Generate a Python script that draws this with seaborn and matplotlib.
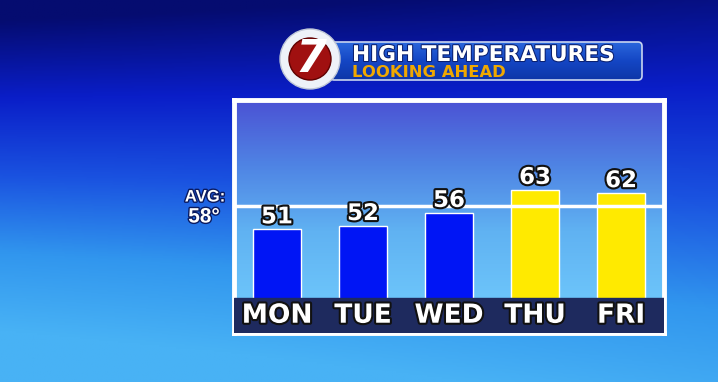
import numpy as np
import pandas as pd
import matplotlib
matplotlib.use("Agg")
import matplotlib.pyplot as plt
import matplotlib.patheffects as pe
from matplotlib.colors import LinearSegmentedColormap
from matplotlib.patches import Circle, FancyBboxPatch
import seaborn as sns

days = ["MON", "TUE", "WED", "THU", "FRI"]
temps = [51, 52, 56, 63, 62]
bar_colors = ["#0015f5", "#0015f5", "#0015f5", "#ffea00", "#ffea00"]
avg_temp = 58
title_main = "HIGH TEMPERATURES"
title_sub = "LOOKING AHEAD"

sns.set_theme(style="white")
plt.rcParams["font.family"] = ["DejaVu Sans"]

W, H = 718, 382
fig = plt.figure(figsize=(W / 100, H / 100), dpi=100)

# background gradient
bg = fig.add_axes([0, 0, 1, 1])
bg.set_axis_off()
yy, xx = np.mgrid[0:1:200j, 0:1:300j]
t = np.clip(0.85 * yy + 0.25 * (1 - xx) * yy - 0.12 * (1 - yy) * (1 - xx) + 0.06, 0, 1)
bgcmap = LinearSegmentedColormap.from_list(
    "bg", ["#050c70", "#0a1ec8", "#1a52e0", "#3196ee", "#48b2f5"])
bg.imshow(t, cmap=bgcmap, aspect="auto", extent=[0, 1, 0, 1], origin="upper", vmin=0, vmax=1)
bg.set_xlim(0, 1)
bg.set_ylim(0, 1)

def px(x0, y0, x1, y1):
    return [x0 / W, 1 - y1 / H, (x1 - x0) / W, (y1 - y0) / H]

ax = fig.add_axes(px(234, 100, 664, 333))
ymin, ymax = 19.5, 90.3
base = 30
inner = LinearSegmentedColormap.from_list("in", ["#4b52d4", "#4f84e4", "#60b2f2", "#6cc4fa"])
grad = np.linspace(0, 1, 100).reshape(-1, 1)
ax.imshow(grad, cmap=inner, aspect="auto", extent=[-0.5, 4.5, base, ymax],
          origin="upper", zorder=0)

df = pd.DataFrame({"day": days, "temp": temps})
sns.barplot(data=df, x="day", y="temp", hue="day", palette=bar_colors,
            legend=False, width=0.55, ax=ax, saturation=1, zorder=2)
ax.set_xlim(-0.5, 4.5)
ax.set_ylim(ymin, ymax)
ax.axhspan(ymin, base, color="#1e2a5e", zorder=3)
ax.axhline(avg_temp, color="white", lw=2.5, zorder=4)

stroke = [pe.withStroke(linewidth=3, foreground="#111111")]
for i, (d, v) in enumerate(zip(days, temps)):
    ax.text(i, v + 0.3, str(v), ha="center", va="bottom", color="white",
            fontsize=16.5, fontweight="bold", path_effects=stroke, zorder=5)
    ax.text(i, (ymin + base) / 2, d, ha="center", va="center", color="white",
            fontsize=19, fontweight="bold", path_effects=stroke, zorder=5)

ax.set_xticks([])
ax.set_yticks([])
ax.set_xlabel("")
ax.set_ylabel("")
for s in ax.spines.values():
    s.set_color("white")
    s.set_linewidth(3.5)
    s.set_visible(True)

# AVG label
lab_fx = [pe.withStroke(linewidth=2, foreground="#0a1a60")]
fig.text(205 / W, 1 - 197 / H, "AVG:", ha="center", va="center", color="white",
         fontsize=12, fontweight="bold", family=["Liberation Sans", "DejaVu Sans"],
         path_effects=lab_fx)
fig.text(204 / W, 1 - 217 / H, f"{avg_temp}°", ha="center", va="center", color="white",
         fontsize=15, fontweight="bold", family=["Liberation Sans", "DejaVu Sans"],
         path_effects=lab_fx)

# banner
ov = fig.add_axes([0, 0, 1, 1])
ov.set_axis_off()
ov.set_xlim(0, W)
ov.set_ylim(H, 0)
banner = FancyBboxPatch((330, 42), 312, 38, boxstyle="round,pad=0,rounding_size=4",
                        facecolor="none", edgecolor="#c8d4f0", lw=1.2, zorder=2)
ov.add_patch(banner)
bcmap = LinearSegmentedColormap.from_list("bn", ["#2a66dc", "#1446c4", "#0e36a8"])
im = ov.imshow(np.linspace(0, 1, 50).reshape(-1, 1), cmap=bcmap, aspect="auto",
               extent=[330, 642, 80, 42], origin="upper", zorder=1)
im.set_clip_path(banner)
ov.set_xlim(0, W)
ov.set_ylim(H, 0)
ov.add_patch(Circle((310, 59), 30, facecolor="#eef2f8", edgecolor="#c0c8d8", lw=1, zorder=3))
ov.add_patch(Circle((310, 59), 21, facecolor="#a01010", edgecolor="#600000", lw=1, zorder=4))
ov.text(311, 60, "7", ha="center", va="center", color="white", fontsize=32,
        fontweight="bold", style="italic", zorder=5)
ov.text(352, 61, title_main, ha="left", va="baseline", color="white", zorder=5,
        fontsize=15.6, fontweight="bold", path_effects=[pe.withStroke(linewidth=1.5, foreground="#0a2070")])
ov.text(352, 77, title_sub, ha="left", va="baseline", color="#f0a800", zorder=5,
        fontsize=11.8, fontweight="bold")

fig.savefig("out.png", dpi=100)
